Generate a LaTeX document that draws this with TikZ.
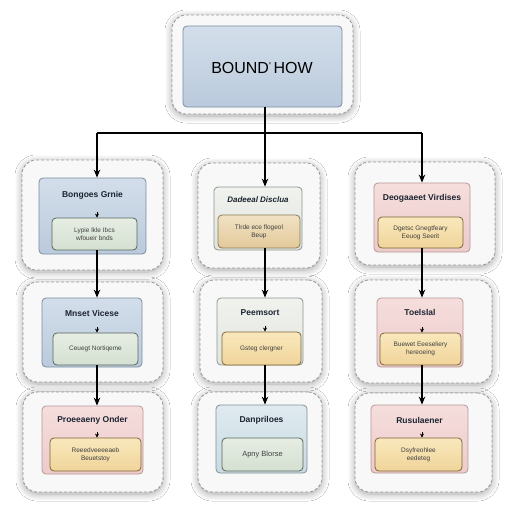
\documentclass[tikz,border=0pt]{standalone}
\usepackage{fontspec}
\setmainfont{Liberation Sans}
\usetikzlibrary{arrows.meta,shadows.blur}
\definecolor{bdark}{HTML}{1C2430}
\definecolor{outerfill}{HTML}{F8F8F8}
\definecolor{outerdraw}{HTML}{9A9A9A}
\definecolor{BlueTop}{HTML}{D3DEEA}\definecolor{BlueBot}{HTML}{BACADC}\definecolor{BlueDraw}{HTML}{7A8CA0}
\definecolor{GreenTop}{HTML}{E6EDE3}\definecolor{GreenBot}{HTML}{D4E0D1}\definecolor{GreenDraw}{HTML}{56675C}
\definecolor{PinkTop}{HTML}{F5DEDD}\definecolor{PinkBot}{HTML}{EDCBCA}\definecolor{PinkDraw}{HTML}{B69896}
\definecolor{YellowTop}{HTML}{F9E8BC}\definecolor{YellowBot}{HTML}{F0D49A}\definecolor{YellowDraw}{HTML}{7D6538}
\definecolor{GrayTop}{HTML}{F0F2EE}\definecolor{GrayBot}{HTML}{E0E5DF}\definecolor{GrayDraw}{HTML}{8E9690}
\definecolor{TanTop}{HTML}{F0E2C4}\definecolor{TanBot}{HTML}{E3C99A}\definecolor{TanDraw}{HTML}{8C7A55}
\definecolor{LBlueTop}{HTML}{DFEAEF}\definecolor{LBlueBot}{HTML}{C9DBE3}\definecolor{LBlueDraw}{HTML}{7F9298}
\begin{document}
\begin{tikzpicture}[x=1pt,y=-1pt,
  outerbox/.style={draw=outerdraw, dash pattern=on 3pt off 2pt, line width=0.9pt, rounded corners=14pt, fill=outerfill, inner sep=0pt,
    blur shadow={shadow blur steps=10, shadow xshift=0pt, shadow yshift=-2pt, shadow opacity=35, shadow blur radius=7pt}},
  inbox/.style={rounded corners=4pt, line width=0.8pt, inner sep=0pt},
  bluebox/.style={inbox, draw=BlueDraw, top color=BlueTop, bottom color=BlueBot},
  greenbox/.style={inbox, draw=GreenDraw, top color=GreenTop, bottom color=GreenBot},
  pinkbox/.style={inbox, draw=PinkDraw, top color=PinkTop, bottom color=PinkBot},
  yellowbox/.style={inbox, draw=YellowDraw, top color=YellowTop, bottom color=YellowBot},
  graybox/.style={inbox, draw=GrayDraw, top color=GrayTop, bottom color=GrayBot},
  tanbox/.style={inbox, draw=TanDraw, top color=TanTop, bottom color=TanBot},
  lbluebox/.style={inbox, draw=LBlueDraw, top color=LBlueTop, bottom color=LBlueBot},
  titletext/.style={font=\bfseries\fontsize{8.5}{10}\selectfont, text=bdark, inner sep=0pt},
  subtext/.style={font=\fontsize{6.5}{8}\selectfont, text=black!75, align=center, inner sep=0pt},
  conn/.style={line width=1.2pt, -{Stealth[length=8pt,width=6.5pt]}},
  plainconn/.style={line width=1.2pt},
  tinyarrow/.style={line width=0.9pt, -{Stealth[length=4pt,width=4pt]}}
]
\useasboundingbox[fill=white] (0,0) rectangle (512,512);

% top
\node[outerbox, minimum width=181pt, minimum height=99pt] (topo) at (262.5,64.5) {};
\node[bluebox, minimum width=159pt, minimum height=81pt] (top) at (262.5,66.5) {};
\node[font=\fontsize{16}{18}\selectfont, text=black] (toptext) at (262,68) {BOUND\raisebox{4pt}{\fontsize{10}{10}\selectfont\textquotesingle}\,HOW};

% column 1
\node[outerbox, minimum width=141pt, minimum height=110pt] (o11) at (92.5,215) {};
\node[bluebox, minimum width=107pt, minimum height=76pt] (b11) at (92.5,216) {};
\node[titletext] (t11) at (92.5,195) {Bongoes Grnie};
\node[greenbox, minimum width=85pt, minimum height=32pt] (s11) at (94.5,234) {};
\node[subtext] (u11) at (s11) {Lypie lkle Ibcs\\wfoueir bnds};

\node[outerbox, minimum width=140pt, minimum height=100pt] (o12) at (93,332) {};
\node[bluebox, minimum width=100pt, minimum height=69pt] (b12) at (92,332.5) {};
\node[titletext] (t12) at (92,313) {Mnset Vicese};
\node[greenbox, minimum width=85pt, minimum height=32pt] (s12) at (95.5,349) {};
\node[subtext] (u12) at (s12) {Ceuegt Nortiqeme};

\node[outerbox, minimum width=140pt, minimum height=100pt] (o13) at (93,442) {};
\node[pinkbox, minimum width=101pt, minimum height=68pt] (b13) at (92.5,440) {};
\node[titletext] (t13) at (92.5,420) {Proeeaeny Onder};
\node[yellowbox, minimum width=91pt, minimum height=33pt] (s13) at (95.5,454.5) {};
\node[subtext] (u13) at (s13) {Reeedveeeeaeb\\Beuetstoy};

% column 2
\node[outerbox, minimum width=122pt, minimum height=105pt] (o21) at (259,215.5) {};
\node[graybox, minimum width=88pt, minimum height=63pt] (b21) at (258,218.5) {};
\node[titletext, font=\fontsize{8}{10}\selectfont\bfseries\itshape] (t21) at (258,200) {Dadeeal Disclua};
\node[tanbox, minimum width=82pt, minimum height=33pt] (s21) at (259,231.5) {};
\node[subtext] (u21) at (s21) {Tlrde ece flogeol\\Beup};

\node[outerbox, minimum width=122pt, minimum height=102pt] (o22) at (261,331) {};
\node[graybox, minimum width=86pt, minimum height=67pt] (b22) at (260,331.5) {};
\node[titletext] (t22) at (260,313) {Peemsort};
\node[yellowbox, minimum width=79pt, minimum height=33pt] (s22) at (261.5,348.5) {};
\node[subtext] (u22) at (s22) {Gsteg clergner};

\node[outerbox, minimum width=124pt, minimum height=100pt] (o23) at (260,442) {};
\node[lbluebox, minimum width=91pt, minimum height=68pt] (b23) at (261.5,439) {};
\node[titletext] (t23) at (261.5,420) {Danpriloes};
\node[greenbox, minimum width=81pt, minimum height=33pt] (s23) at (262.5,454.5) {};
\node[subtext, font=\fontsize{7.5}{9}\selectfont] (u23) at (s23) {Apny Blorse};

% column 3
\node[outerbox, minimum width=140pt, minimum height=103pt] (o31) at (425,213.5) {};
\node[pinkbox, minimum width=96pt, minimum height=69pt] (b31) at (422,217.5) {};
\node[titletext] (t31) at (422,198) {Deogaaeet Virdises};
\node[yellowbox, minimum width=85pt, minimum height=31pt] (s31) at (420.5,232.5) {};
\node[subtext] (u31) at (s31) {Dgetsc Gnegtfeary\\Eeuog Seerit};

\node[outerbox, minimum width=137pt, minimum height=103pt] (o32) at (423.5,331.5) {};
\node[pinkbox, minimum width=86pt, minimum height=69pt] (b32) at (420,332.5) {};
\node[titletext] (t32) at (420,312) {Toelslal};
\node[yellowbox, minimum width=81pt, minimum height=32pt] (s32) at (420.5,349) {};
\node[subtext] (u32) at (s32) {Buewet Eeeseliery\\hereoeing};

\node[outerbox, minimum width=137pt, minimum height=99pt] (o33) at (423.5,442.5) {};
\node[pinkbox, minimum width=97pt, minimum height=68pt] (b33) at (419.5,439) {};
\node[titletext] (t33) at (419.5,420) {Rusulaener};
\node[yellowbox, minimum width=87pt, minimum height=33pt] (s33) at (418.5,454.5) {};
\node[subtext] (u33) at (s33) {Dsyfreohlee\\eedeteg};

% connectors
\coordinate (jm) at (265,133);
\coordinate (jl) at (97,133);
\coordinate (jr) at (422,133);
\draw[plainconn] (top.south -| jm) -- (jm);
\draw[plainconn] (jl) -- (jr);
\draw[conn] (jl) -- (b11.north -| jl);
\draw[conn] (jm) -- (b21.north -| jm);
\draw[conn] (jr) -- (b31.north -| jr);
\draw[conn] (s11.south -| jl) -- (b12.north -| jl);
\draw[conn] (s12.south -| jl) -- (b13.north -| jl);
\draw[conn] (s21.south -| jm) -- (b22.north -| jm);
\draw[conn] (s22.south -| jm) -- (b23.north -| jm);
\draw[conn] (s31.south -| jr) -- (b32.north -| jr);
\draw[conn] (s32.south -| jr) -- (b33.north -| jr);
% small markers
\draw[tinyarrow] ([yshift=6pt]s11.north -| jl) -- (s11.north -| jl);
\draw[tinyarrow] ([yshift=6pt]s12.north -| jl) -- (s12.north -| jl);
\draw[tinyarrow] ([yshift=6pt]s13.north -| jl) -- (s13.north -| jl);
\draw[tinyarrow] ([yshift=6pt]s22.north -| jm) -- (s22.north -| jm);
\draw[tinyarrow] ([yshift=6pt]s32.north -| jr) -- (s32.north -| jr);
\draw[tinyarrow] ([yshift=6pt]s33.north -| jr) -- (s33.north -| jr);
\end{tikzpicture}
\end{document}
